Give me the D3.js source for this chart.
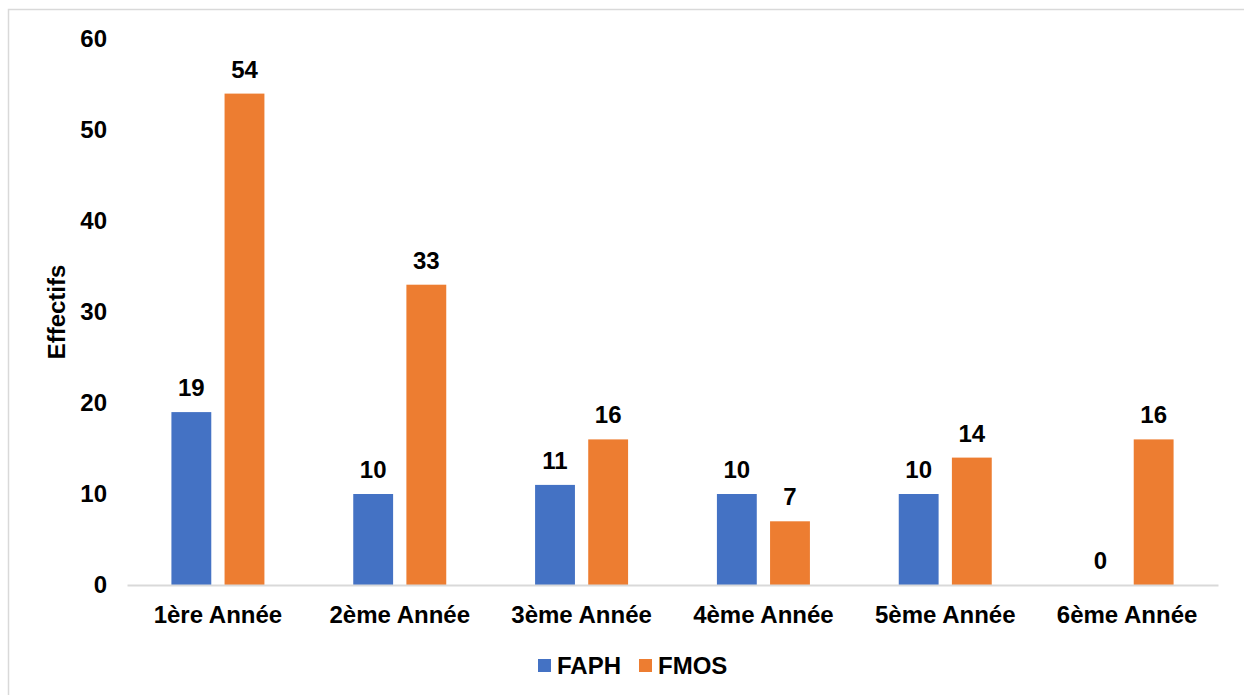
<!DOCTYPE html>
<html>
<head>
<meta charset="utf-8">
<script src="https://cdn.jsdelivr.net/npm/d3@7"></script>
<style>
  html, body { margin: 0; padding: 0; background: #fff; }
  svg { display: block; }
  text { font-family: "Liberation Sans", Arial, sans-serif; font-weight: bold; fill: #000; }
</style>
</head>
<body>
<svg id="chart" width="1244" height="695"></svg>
<script>
// Student counts per year of study, by faculty
const categories = ["1ère Année", "2ème Année", "3ème Année", "4ème Année", "5ème Année", "6ème Année"];
const seriesNames = ["FAPH", "FMOS"];
const faph = [19, 10, 11, 10, 10, 0];
const fmos = [54, 33, 16, 7, 14, 16];
const yTicks = [0, 10, 20, 30, 40, 50, 60];
const colors = ["#4472C4", "#ED7D31"];

const svg = d3.select("#chart");
const W = 1244, H = 695;
const fontSize = 24;

// outer frame
svg.append("rect")
  .attr("x", 8.5).attr("y", 9.5)
  .attr("width", W).attr("height", H)
  .attr("fill", "none").attr("stroke", "#d9d9d9").attr("stroke-width", 1.5);

const plot = { left: 127, right: 1218, top: 39, bottom: 585 };

const x = d3.scaleBand().domain(categories).range([plot.left, plot.right]).paddingInner(0).paddingOuter(0);
const sub = d3.scaleBand().domain(seriesNames).range([0, 93]).paddingInner(0.25).paddingOuter(0);
const y = d3.scaleLinear().domain([0, 60]).range([plot.bottom, plot.top]);

const data = categories.map((c, i) => ({ cat: c, values: [faph[i], fmos[i]] }));

// bars
const groups = svg.append("g").selectAll("g").data(data).join("g")
  .attr("transform", d => `translate(${x(d.cat) + x.bandwidth() / 2 - 46.5},0)`);

groups.selectAll("rect").data(d => d.values.map((v, k) => ({ name: seriesNames[k], v, k })))
  .join("rect")
  .attr("x", d => sub(d.name))
  .attr("y", d => y(d.v))
  .attr("width", sub.bandwidth())
  .attr("height", d => y(0) - y(d.v))
  .attr("fill", d => colors[d.k]);

// value labels
groups.selectAll("text.val").data(d => d.values.map((v, k) => ({ name: seriesNames[k], v, k })))
  .join("text")
  .attr("class", "val")
  .attr("x", d => sub(d.name) + sub.bandwidth() / 2)
  .attr("y", d => y(d.v) - 16)
  .attr("text-anchor", "middle")
  .attr("font-size", fontSize)
  .text(d => d.v);

// x axis
const xAxis = svg.append("g")
  .attr("transform", `translate(0,${plot.bottom})`)
  .call(d3.axisBottom(x).tickSize(0).tickPadding(21));
xAxis.select(".domain").attr("stroke", "#d9d9d9").attr("stroke-width", 2);
xAxis.selectAll("text").attr("font-size", fontSize).attr("font-family", null).attr("fill", "#000");

// y axis (labels only)
const yAxis = svg.append("g")
  .attr("transform", `translate(${plot.left},0)`)
  .call(d3.axisLeft(y).tickValues(yTicks).tickSize(0).tickPadding(20));
yAxis.select(".domain").remove();
yAxis.selectAll("text").attr("font-size", fontSize).attr("font-family", null).attr("fill", "#000");

// y axis title
svg.append("text")
  .attr("transform", `translate(65,312) rotate(-90)`)
  .attr("text-anchor", "middle")
  .attr("font-size", fontSize)
  .text("Effectifs");

// legend
const legend = svg.append("g").attr("transform", "translate(538,659)");
const items = legend.selectAll("g").data(seriesNames).join("g")
  .attr("transform", (d, i) => `translate(${i * 101},0)`);
items.append("rect").attr("width", 13).attr("height", 13).attr("fill", (d, i) => colors[i]);
items.append("text").attr("x", 19).attr("y", 6.5).attr("dy", "0.36em")
  .attr("font-size", fontSize).text(d => d);
</script>
</body>
</html>
